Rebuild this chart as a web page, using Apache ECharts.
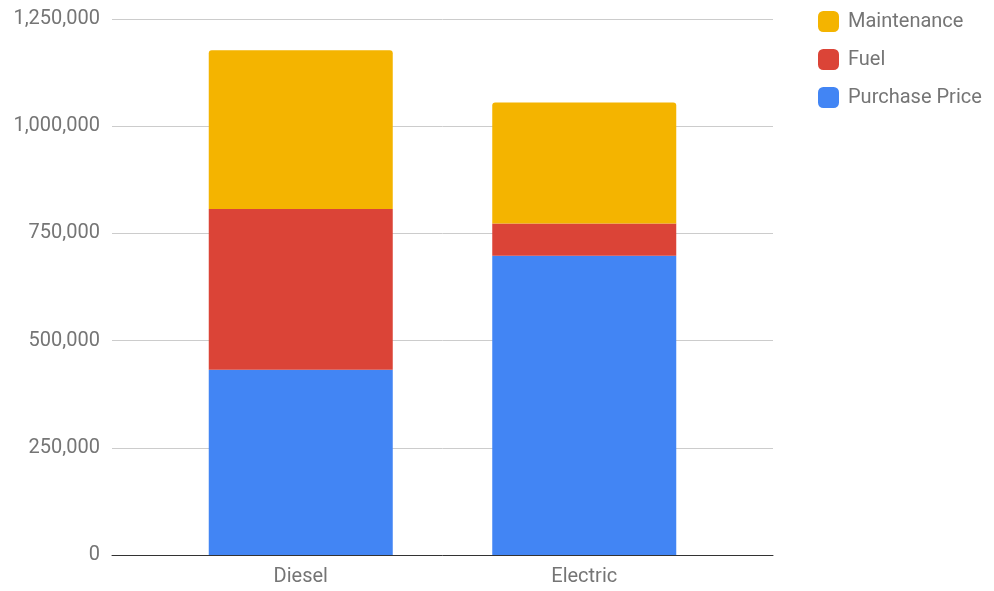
<!DOCTYPE html>
<html>
<head>
<meta charset="utf-8">
<script src="https://cdn.jsdelivr.net/npm/echarts@6/dist/echarts.min.js"></script>
<style>
html,body{margin:0;padding:0;background:#fff;}
#chart{width:994px;height:591px;}
</style>
</head>
<body>
<div id="chart"></div>
<script>
const categories = ['Diesel', 'Electric'];
const purchasePrice = [432000, 698000];
const fuel = [375000, 75000];
const maintenance = [370000, 282000];
const yTicks = [0, 250000, 500000, 750000, 1000000, 1250000];

const chart = echarts.init(document.getElementById('chart'), null, {renderer: 'canvas'});
const font = 'Roboto';
const yMin = yTicks[0], yMax = yTicks[yTicks.length - 1], yInt = yTicks[1] - yTicks[0];
const option = {
  animation: false,
  backgroundColor: '#ffffff',
  grid: [
    {left: 112, right: 221, top: 19, bottom: 36, containLabel: false},
    {left: 159, right: 268, top: 19, bottom: 36, containLabel: false}
  ],
  legend: {
    orient: 'vertical',
    left: 813,
    top: 6,
    itemWidth: 21,
    itemHeight: 21,
    itemGap: 17,
    icon: 'roundRect',
    data: ['Maintenance', 'Fuel', 'Purchase Price'],
    textStyle: {fontFamily: font, fontSize: 20, color: '#757575', padding: [0, 0, 0, 4]}
  },
  xAxis: [
    {
      type: 'category', gridIndex: 0, data: [''],
      axisLine: {show: true, lineStyle: {color: '#333333', width: 1}},
      axisTick: {show: false}, axisLabel: {show: false}, splitLine: {show: false}
    },
    {
      type: 'category', gridIndex: 1, data: categories,
      axisLine: {show: false}, axisTick: {show: false},
      axisLabel: {fontFamily: font, fontSize: 20, color: '#757575', margin: 12}
    }
  ],
  yAxis: [
    {
      type: 'value', gridIndex: 0, min: yMin, max: yMax, interval: yInt,
      axisLine: {show: false}, axisTick: {show: false},
      splitLine: {lineStyle: {color: '#cccccc', width: 1}},
      axisLabel: {
        fontFamily: font, fontSize: 20, color: '#757575', margin: 12,
        formatter: v => v.toLocaleString('en-US')
      }
    },
    {
      type: 'value', gridIndex: 1, min: yMin, max: yMax, interval: yInt,
      axisLine: {show: false}, axisTick: {show: false},
      splitLine: {show: false}, axisLabel: {show: false}
    }
  ],
  series: [
    {name: 'Purchase Price', type: 'bar', stack: 'total', xAxisIndex: 1, yAxisIndex: 1,
     data: purchasePrice, barWidth: 184, itemStyle: {color: '#4285F4'}},
    {name: 'Fuel', type: 'bar', stack: 'total', xAxisIndex: 1, yAxisIndex: 1,
     data: fuel, barWidth: 184, itemStyle: {color: '#DB4437'}},
    {name: 'Maintenance', type: 'bar', stack: 'total', xAxisIndex: 1, yAxisIndex: 1,
     data: maintenance, barWidth: 184, itemStyle: {color: '#F4B400', borderRadius: [3, 3, 0, 0]}}
  ]
};
chart.setOption(option);
</script>
</body>
</html>
